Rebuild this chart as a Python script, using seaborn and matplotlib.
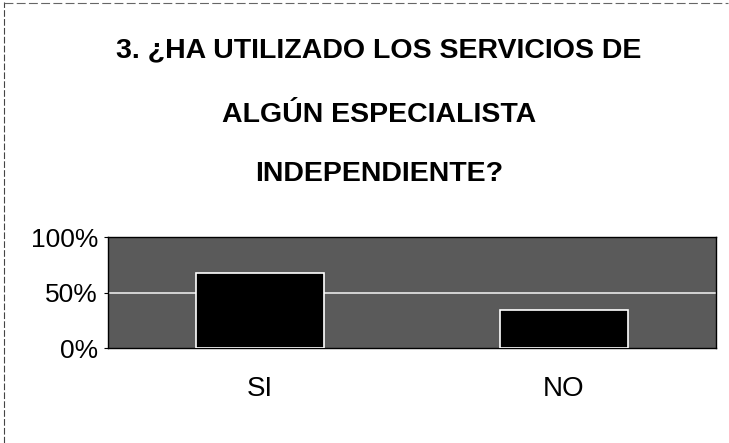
import matplotlib
matplotlib.use("Agg")
import matplotlib.pyplot as plt
import seaborn as sns
import pandas as pd
from matplotlib.lines import Line2D

categories = ["SI", "NO"]
values = [68, 34]
y_ticks = [0, 50, 100]
y_tick_labels = ["0%", "50%", "100%"]
title_lines = ["3. ¿HA UTILIZADO LOS SERVICIOS DE",
               "ALGÚN ESPECIALISTA",
               "INDEPENDIENTE?"]

sns.set_theme(style="white")
plt.rcParams['font.family'] = ['Liberation Sans', 'DejaVu Sans']

fig = plt.figure(figsize=(7.29, 4.43), dpi=100)
ax = fig.add_axes([0.148, 0.214, 0.834, 0.251])

df = pd.DataFrame({"cat": categories, "val": values})
sns.barplot(data=df, x="cat", y="val", color="black", width=0.42,
            edgecolor="white", linewidth=1.2, ax=ax, zorder=3)

ax.set_facecolor("#5a5a5a")
ax.set_ylim(0, 100)
ax.set_yticks(y_ticks)
ax.set_yticklabels(y_tick_labels)
ax.axhline(50, color="#e8e8e8", linewidth=1.2, zorder=2)
ax.set_xlabel("")
ax.set_ylabel("")
for s in ax.spines.values():
    s.set_visible(True)
    s.set_color("black")
    s.set_linewidth(1.0)
ax.tick_params(axis="y", labelsize=19, length=3, width=0.8, color="black", pad=4, left=True)
ax.tick_params(axis="x", labelsize=20, length=0, pad=20)
for t in ax.get_xticklabels() + ax.get_yticklabels():
    t.set_color("black")

ys = [0.887, 0.740, 0.607]
for line, y in zip(title_lines, ys):
    fig.text(0.52, y, line, ha="center", va="center", fontsize=20.5,
             fontweight="bold", color="black")

# scan border
fig.add_artist(Line2D([0.005, 0.005], [0.0, 0.995], transform=fig.transFigure,
                      color="#444444", linewidth=0.8, linestyle=(0, (6, 2))))
fig.add_artist(Line2D([0.005, 0.999], [0.993, 0.993], transform=fig.transFigure,
                      color="#666666", linewidth=0.8, linestyle=(0, (8, 3))))

fig.savefig("out.png", dpi=100)
